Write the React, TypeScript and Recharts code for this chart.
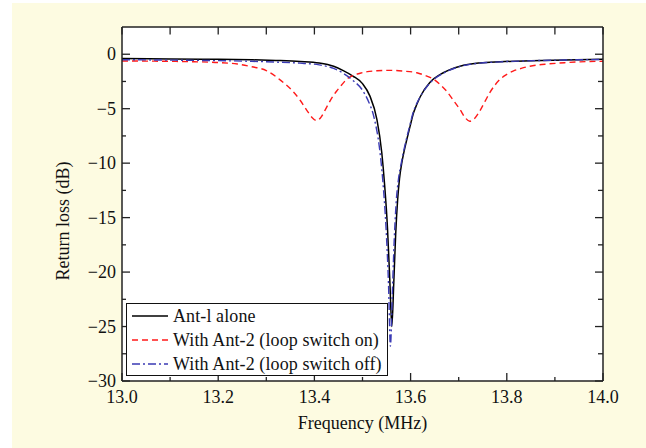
import * as React from 'react';
import {LineChart, Line, XAxis, YAxis, Legend} from 'recharts';

// frequency (MHz), return loss (dB)
const antAlone: [number, number][] = [
    [13.00, -0.40], [13.10, -0.43], [13.20, -0.47], [13.27, -0.51], [13.32, -0.57],
    [13.37, -0.66], [13.41, -0.80], [13.44, -1.10], [13.46, -1.50], [13.48, -2.00],
    [13.50, -2.70], [13.515, -3.80], [13.53, -6.00], [13.54, -9.00], [13.546, -12.0],
    [13.552, -16.0], [13.557, -21.0], [13.561, -25.0], [13.565, -21.0], [13.569, -16.5],
    [13.573, -13.4], [13.577, -11.4], [13.582, -9.90], [13.587, -8.80], [13.592, -7.85],
    [13.599, -6.60], [13.606, -5.40], [13.613, -4.60], [13.62, -3.90], [13.64, -2.60],
    [13.668, -1.70], [13.703, -1.10], [13.744, -0.80], [13.786, -0.69], [13.85, -0.60],
    [13.92, -0.53], [14.00, -0.47]
];

const loopOn: [number, number][] = [
    [13.00, -0.62], [13.05, -0.63], [13.10, -0.65], [13.15, -0.69], [13.20, -0.76],
    [13.24, -0.90], [13.27, -1.15], [13.30, -1.50], [13.33, -2.40], [13.355, -3.40],
    [13.37, -4.20], [13.385, -5.20], [13.395, -5.80], [13.405, -6.10], [13.415, -5.70],
    [13.425, -4.90], [13.435, -4.10], [13.446, -3.40], [13.457, -2.80], [13.467, -2.30],
    [13.48, -1.95], [13.495, -1.75], [13.51, -1.60], [13.53, -1.52], [13.557, -1.48],
    [13.585, -1.55], [13.613, -1.70], [13.63, -1.95], [13.648, -2.30], [13.662, -2.80],
    [13.675, -3.40], [13.69, -4.30], [13.703, -5.10], [13.713, -5.80], [13.723, -6.15],
    [13.733, -5.90], [13.744, -5.20], [13.755, -4.30], [13.765, -3.50], [13.776, -2.80],
    [13.786, -2.30], [13.80, -1.85], [13.813, -1.55], [13.83, -1.30], [13.848, -1.10],
    [13.865, -0.98], [13.883, -0.90], [13.92, -0.78], [13.952, -0.70], [14.00, -0.65]
];

const loopOff: [number, number][] = [
    [13.00, -0.50], [13.10, -0.54], [13.20, -0.59], [13.27, -0.65], [13.32, -0.72],
    [13.37, -0.82], [13.41, -0.98], [13.44, -1.30], [13.46, -1.75], [13.48, -2.40],
    [13.50, -3.30], [13.51, -4.10], [13.525, -6.00], [13.535, -8.50], [13.542, -11.5],
    [13.549, -16.0], [13.554, -21.0], [13.558, -26.8], [13.562, -22.0], [13.566, -17.0],
    [13.570, -13.6], [13.575, -11.4], [13.581, -9.90], [13.586, -8.80], [13.591, -7.85],
    [13.598, -6.60], [13.605, -5.40], [13.612, -4.60], [13.62, -3.90], [13.64, -2.65],
    [13.668, -1.75], [13.703, -1.12], [13.744, -0.82], [13.786, -0.70], [13.85, -0.60],
    [13.92, -0.53], [14.00, -0.48]
];

const xTicks = [13.0, 13.1, 13.2, 13.3, 13.4, 13.5, 13.6, 13.7, 13.8, 13.9, 14.0];
const xLabels = [13.0, 13.2, 13.4, 13.6, 13.8, 14.0];
const yTicks = [-30, -27.5, -25, -22.5, -20, -17.5, -15, -12.5, -10, -7.5, -5, -2.5, 0];
const yLabels = [-30, -25, -20, -15, -10, -5, 0];

const FONT = '"Liberation Serif", "Times New Roman", serif';
const AXIS = '#222';

const series = [
    {name: 'Ant-l alone', data: antAlone, color: '#000000', dash: undefined, width: 1.5},
    {name: 'With Ant-2 (loop switch on)', data: loopOn, color: '#ff1a1a', dash: '6 4', width: 1.4},
    {name: 'With Ant-2 (loop switch off)', data: loopOff, color: '#3a3ab4', dash: '8 3 2 3', width: 1.4}
];

const isIn = (list: number[], v: number) => list.some(t => Math.abs(t - v) < 1e-6);
const fmtY = (v: number) => (v < 0 ? '\u2212' + Math.abs(v) : String(v));

const BottomTick = (props: any) => {
    const {x, y, payload} = props;
    const major = isIn(xLabels, payload.value);
    return (
        <g>
            <line x1={x} x2={x} y1={y} y2={y - (major ? 8 : 4)} stroke={AXIS} strokeWidth={1.3}/>
            {major && (
                <text x={x} y={y + 22} textAnchor="middle" fontFamily={FONT} fontSize={18} fill="#111">
                    {payload.value.toFixed(1)}
                </text>
            )}
        </g>
    );
};

const TopTick = (props: any) => {
    const {x, y} = props;
    return <line x1={x} x2={x} y1={y} y2={y + 7.5} stroke={AXIS} strokeWidth={1.3}/>;
};

const LeftTick = (props: any) => {
    const {x, y, payload} = props;
    const major = isIn(yLabels, payload.value);
    return (
        <g>
            <line x1={x} x2={x + (major ? 8 : 4)} y1={y} y2={y} stroke={AXIS} strokeWidth={1.3}/>
            {major && (
                <text x={x - 6} y={y + 6} textAnchor="end" fontFamily={FONT} fontSize={18} fill="#111">
                    {fmtY(payload.value)}
                </text>
            )}
        </g>
    );
};

const RightTick = (props: any) => {
    const {x, y, payload} = props;
    const major = isIn(yLabels, payload.value);
    return <line x1={x} x2={x - (major ? 8 : 5)} y1={y} y2={y} stroke={AXIS} strokeWidth={1.3}/>;
};

const renderLegend = () => (
    <div style={{
        width: 260, height: 71, border: '1.5px solid #111', background: '#fff',
        fontFamily: FONT, fontSize: 18, letterSpacing: 0.1, color: '#111', boxSizing: 'content-box'
    }}>
        {series.map(s => (
            <div key={s.name} style={{display: 'flex', alignItems: 'center', height: 24, whiteSpace: 'nowrap'}}>
                <svg width={36} height={4} style={{marginLeft: 5, marginRight: 5}}>
                    <line x1={0} x2={36} y1={2} y2={2} stroke={s.color} strokeWidth={1.4} strokeDasharray={s.dash}/>
                </svg>
                <span>{s.name}</span>
            </div>
        ))}
    </div>
);

export default function App() {
    return (
        <div style={{position: 'absolute', left: 0, top: 0, width: 646, height: 448, background: '#fff'}}>
            <div style={{position: 'absolute', left: 12, top: 3, right: 0, bottom: 0, background: '#fdfbe1'}}/>
            <div style={{position: 'absolute', left: 0, top: 0}}>
                <LineChart width={646} height={448} margin={{top: 26, right: 42, bottom: 0, left: 0}}>
                    <rect x={122} y={27} width={481} height={354} fill="#fff"/>
                    <XAxis xAxisId="bottom" type="number" dataKey="f" domain={[13, 14]} ticks={xTicks}
                        interval={0} height={67} tickSize={0} tickMargin={0} tick={BottomTick}
                        axisLine={{stroke: AXIS, strokeWidth: 1.5}} allowDataOverflow
                        label={(p: any) => {
                            const vb = p.viewBox;
                            return (
                                <text x={vb.x + vb.width / 2} y={vb.y + 48} textAnchor="middle"
                                    fontFamily={FONT} fontSize={18} fill="#111">Frequency (MHz)</text>
                            );
                        }}/>
                    <XAxis xAxisId="top" orientation="top" type="number" dataKey="f" domain={[13, 14]}
                        ticks={xTicks} interval={0} height={1} tickSize={0} tickMargin={0} tick={TopTick}
                        axisLine={{stroke: AXIS, strokeWidth: 1.5}} allowDataOverflow/>
                    <YAxis yAxisId="left" type="number" domain={[-30, 2.5]} ticks={yTicks} interval={0}
                        width={122} tickSize={0} tickMargin={0} tick={LeftTick}
                        axisLine={{stroke: AXIS, strokeWidth: 1.5}} allowDataOverflow
                        label={(p: any) => {
                            const vb = p.viewBox;
                            const cy = vb.y + vb.height / 2 + 17;
                            return (
                                <text x={63} y={cy} transform={`rotate(-90 63 ${cy})`} textAnchor="middle"
                                    dominantBaseline="central" fontFamily={FONT} fontSize={18} fill="#111">
                                    Return loss (dB)
                                </text>
                            );
                        }}/>
                    <YAxis yAxisId="right" orientation="right" type="number" domain={[-30, 2.5]} ticks={yTicks}
                        interval={0} width={1} tickSize={0} tickMargin={0} tick={RightTick}
                        axisLine={{stroke: AXIS, strokeWidth: 1.5}} allowDataOverflow/>
                    {series.map(s => (
                        <Line key={s.name} xAxisId="bottom" yAxisId="left" name={s.name}
                            data={s.data.map(([f, db]) => ({f, db}))} dataKey="db" type="monotone"
                            stroke={s.color} strokeWidth={s.width} strokeDasharray={s.dash}
                            dot={false} activeDot={false} isAnimationActive={false}/>
                    ))}
                    <Legend layout="vertical" align="center" verticalAlign="middle" content={renderLegend}
                        wrapperStyle={{position: 'absolute', left: 126, top: 303, width: 'auto', height: 'auto'}}/>
                </LineChart>
            </div>
        </div>
    );
}
